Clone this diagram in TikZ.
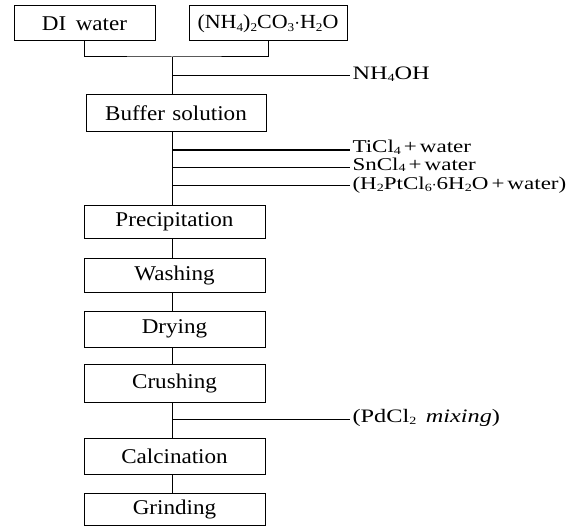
\documentclass[tikz,border=0pt]{standalone}
\usepackage{fontspec}
\setmainfont[FakeStretch=1.1]{Liberation Serif}
\newfontfamily\lblfont[FakeStretch=1.28]{Liberation Serif}
\newcommand\chsub[1]{\raisebox{-0.35ex}{\fontsize{12}{13}\selectfont #1}}
\newcommand\lsub[1]{\raisebox{-0.2ex}{\fontsize{11}{12}\selectfont #1}}
\begin{document}
\begin{tikzpicture}[x=1pt,y=-1pt,
  line width=1pt,
  stepbox/.style={draw,line width=1pt,minimum width=181pt,inner sep=0pt,font=\fontsize{21}{24}\selectfont},
  lbl/.style={anchor=west,inner xsep=2pt,inner ysep=0pt,font=\lblfont\fontsize{18}{21}\selectfont,text height=9pt,text depth=2pt},
  flow/.style={draw,line width=1pt}]
\useasboundingbox (0,0) rectangle (587,527);
\node[stepbox,minimum width=141pt,minimum height=35pt] (di) at (84.5,23.5) {DI\hspace{0.45em}water};
\node[stepbox,minimum width=158pt,minimum height=35pt,font=\fontsize{20}{24}\selectfont] (nh) at (268,23.5) {(NH\chsub{4})\chsub{2}CO\chsub{3}$\cdot$H\chsub{2}O};
\node[stepbox,minimum width=180pt,minimum height=36pt] (buf) at (176,113) {Buffer\hspace{0.35em}solution};
\node[stepbox,minimum height=33pt] (pre) at (174.5,221.5) {Precipitation};
\node[stepbox,minimum height=34pt] (was) at (174.5,275) {Washing};
\node[stepbox,minimum height=36pt] (dry) at (174.5,329) {Drying};
\node[stepbox,minimum height=38pt] (cru) at (174.5,383) {Crushing};
\node[stepbox,minimum height=36pt] (cal) at (174.5,456) {Calcination};
\node[stepbox,minimum height=32pt] (gri) at (174.5,509) {Grinding};

\coordinate (j) at (172,57);
\coordinate (b1) at (172,76);
\coordinate (b2) at (172,150);
\coordinate (b3) at (172,167);
\coordinate (b4) at (172,185);
\coordinate (b5) at (172,419);

\node[lbl,font=\lblfont\fontsize{19}{22}\selectfont] (l1) at (350,76) {NH\lsub{4}OH};
\node[lbl] (l2) at (350,149.5) {TiCl\lsub{4}\,+\,water};
\node[lbl] (l3) at (350,166.5) {SnCl\lsub{4}\,+\,water};
\node[lbl] (l4) at (350,186) {(H\lsub{2}PtCl\lsub{6}$\cdot$6H\lsub{2}O\,+\,water)};
\node[lbl,font=\lblfont\fontsize{19}{22}\selectfont] (l5) at (350,419) {(PdCl\lsub{2}\hspace{0.5em}\textit{mixing})};

\draw[flow] (di.south) |- (j) -| (nh.south);
\draw[flow] (j) -- (j |- buf.north);
\draw[flow] (b1) -- (l1.west);
\draw[flow] (b1 |- buf.south) -- (b1 |- pre.north);
\draw[flow,line width=1.6pt] (b2) -- (b2 -| l2.west);
\draw[flow] (b3) -- (b3 -| l3.west);
\draw[flow] (b4) -- (b4 -| l4.west);
\draw[flow] (b1 |- pre.south) -- (b1 |- was.north);
\draw[flow] (b1 |- was.south) -- (b1 |- dry.north);
\draw[flow] (b1 |- dry.south) -- (b1 |- cru.north);
\draw[flow] (b1 |- cru.south) -- (b1 |- cal.north);
\draw[flow] (b5) -- (l5.west);
\draw[flow] (b1 |- cal.south) -- (b1 |- gri.north);
\end{tikzpicture}
\end{document}
